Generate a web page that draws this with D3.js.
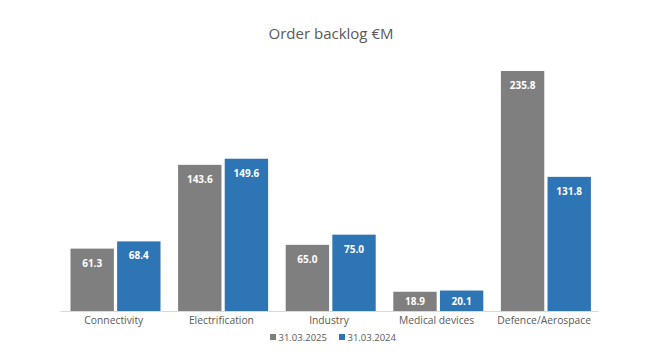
<!DOCTYPE html>
<html>
<head>
  <meta charset="utf8">
  <script src="https://d3js.org/d3.v7.min.js"></script>
  <style>
    body { margin: 0; background: #fff; }
    text { font-family: "Open Sans", "Noto Sans", sans-serif; }
  </style>
</head>
<body>
  <svg id="chart" width="645" height="352"></svg>
  <script>
    var categories = ['Connectivity', 'Electrification', 'Industry', 'Medical devices', 'Defence/Aerospace'];
    var series = ['31.03.2025', '31.03.2024'];
    var values2025 = [61.3, 143.6, 65.0, 18.9, 235.8];
    var values2024 = [68.4, 149.6, 75.0, 20.1, 131.8];
    var colors = ['#7f7f7f', '#2e75b6'];

    var chart = d3.select('#chart');
    var plotLeft = 60, plotRight = 598, plotTop = 71, base = 311;

    var x0 = d3.scaleBand().domain(categories).range([plotLeft, plotRight]).paddingInner(0).paddingOuter(0);
    var x1 = d3.scaleBand().domain(series).range([10.5, 100.5]).paddingInner(0.07);
    var y = d3.scaleLinear().domain([0, 235.8]).range([base, plotTop]);

    chart.append('text')
      .attr('x', 331).attr('y', 39)
      .attr('text-anchor', 'middle')
      .attr('font-size', 15)
      .attr('fill', '#595959')
      .text('Order backlog €M');

    var rows = categories.map(function (c, i) {
      return { cat: c, vals: [values2025[i], values2024[i]] };
    });

    var g = chart.selectAll('g.cat').data(rows).enter().append('g')
      .attr('class', 'cat')
      .attr('transform', function (d) { return 'translate(' + x0(d.cat) + ',0)'; });

    var bars = g.selectAll('g.bar').data(function (d) {
      return series.map(function (s, i) { return { key: s, value: d.vals[i], i: i }; });
    }).enter().append('g').attr('class', 'bar');

    bars.append('rect')
      .attr('x', function (d) { return x1(d.key); })
      .attr('y', function (d) { return y(d.value); })
      .attr('width', x1.bandwidth())
      .attr('height', function (d) { return base - y(d.value); })
      .attr('fill', function (d) { return colors[d.i]; });

    bars.append('text')
      .attr('x', function (d) { return x1(d.key) + x1.bandwidth() / 2; })
      .attr('y', function (d) { return Math.min(y(d.value) + 18, base - 6); })
      .attr('text-anchor', 'middle')
      .attr('font-size', 10)
      .attr('font-weight', 'bold')
      .attr('fill', '#fff')
      .text(function (d) { return d.value.toFixed(1); });

    var xAxis = chart.append('g')
      .attr('transform', 'translate(0,' + base + ')')
      .call(d3.axisBottom(x0).tickSize(0).tickPadding(6));
    xAxis.select('.domain').attr('stroke', '#d9d9d9');
    xAxis.selectAll('text')
      .attr('font-size', 10.3)
      .attr('fill', '#595959')
      .style('font-family', '"Open Sans", sans-serif');

    var legend = chart.append('g').attr('transform', 'translate(270,338)');
    var lg = legend.selectAll('g').data(series).enter().append('g')
      .attr('transform', function (d, i) { return 'translate(' + (i * 69) + ',0)'; });
    lg.append('rect').attr('x', 0).attr('y', -4).attr('width', 6).attr('height', 6)
      .attr('fill', function (d, i) { return colors[i]; });
    lg.append('text').attr('x', 8.5).attr('y', 3)
      .attr('font-size', 9.5)
      .attr('fill', '#595959')
      .text(function (d) { return d; });
  </script>
</body>
</html>
